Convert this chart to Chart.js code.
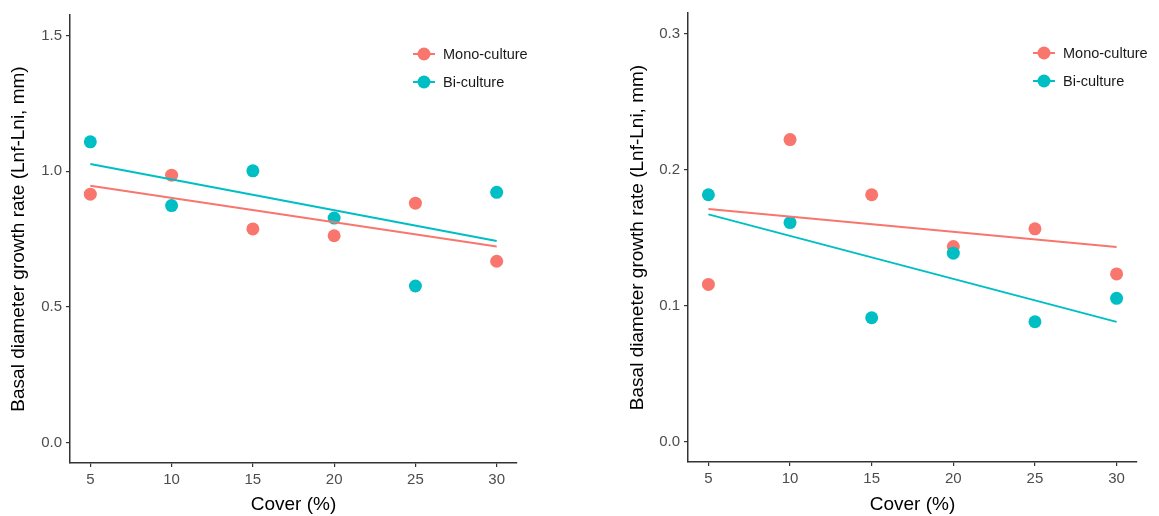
<!DOCTYPE html>
<html>
<head>
<meta charset="utf-8">
<script src="https://cdn.jsdelivr.net/npm/chart.js@4/dist/chart.umd.min.js"></script>
<style>
  html, body { margin: 0; padding: 0; background: #ffffff; }
  #wrap { position: relative; width: 1159px; height: 516px; }
  canvas { position: absolute; top: 0; }
  #left { left: 0; }
  #right { left: 580px; }
</style>
</head>
<body>
<div id="wrap">
  <canvas id="left" width="580" height="516"></canvas>
  <canvas id="right" width="579" height="516"></canvas>
</div>
<script>
// Cover treatments (%)
const coverLevels = [5, 10, 15, 20, 25, 30];

// Panel A: basal diameter growth rate
const monoGrowthA = [0.915, 0.985, 0.787, 0.762, 0.882, 0.668];
const biGrowthA   = [1.108, 0.873, 1.001, 0.827, 0.577, 0.922];
const monoFitA    = [0.946, 0.722];
const biFitA      = [1.026, 0.743];
const yTicksA     = [0, 0.5, 1.0, 1.5];

// Panel B: basal diameter growth rate
const monoGrowthB = [0.1155, 0.222, 0.1814, 0.1433, 0.1564, 0.1232];
const biGrowthB   = [0.1814, 0.161, 0.091, 0.1385, 0.0881, 0.1053];
const monoFitB    = [0.171, 0.143];
const biFitB      = [0.167, 0.088];
const yTicksB     = [0, 0.1, 0.2, 0.3];

// Fitted lines span the cover range
const fitCover = [5, 30];

const seriesNames = ['Mono-culture', 'Bi-culture'];
const RED = '#F8766D';
const TEAL = '#00BFC4';
const FONT = "'Liberation Sans', Arial, sans-serif";

function pts(xs, ys) { return xs.map((x, i) => ({ x: x, y: ys[i] })); }

// Legend drawn inside the plot area, top-right
const insideLegend = {
  id: 'insideLegend',
  afterDatasetsDraw(chart, args, opts) {
    const ctx = chart.ctx;
    const a = chart.chartArea;
    const cx = a.right + opts.dx;
    opts.items.forEach((it, i) => {
      const cy = a.top + opts.dy + i * opts.gap;
      ctx.save();
      ctx.strokeStyle = it.color;
      ctx.lineWidth = 2;
      ctx.beginPath();
      ctx.moveTo(cx - 11, cy);
      ctx.lineTo(cx + 11, cy);
      ctx.stroke();
      ctx.fillStyle = it.color;
      ctx.beginPath();
      ctx.arc(cx, cy, 6.5, 0, Math.PI * 2);
      ctx.fill();
      ctx.fillStyle = '#1a1a1a';
      ctx.font = '14.5px ' + FONT;
      ctx.textBaseline = 'middle';
      ctx.textAlign = 'left';
      ctx.fillText(it.label, cx + 19, cy + 0.5);
      ctx.restore();
    });
  }
};

function makePanel(canvasId, cfg) {
  // Lower order is painted later (on top): fits over points, Bi-culture points over Mono-culture
  const scatterStyle = (color, order) => ({
    showLine: false,
    backgroundColor: color,
    borderColor: color,
    pointRadius: 6.5,
    pointHoverRadius: 6.5,
    pointBorderWidth: 0,
    order: order
  });
  const lineStyle = (color) => ({
    showLine: true,
    borderColor: color,
    backgroundColor: color,
    borderWidth: 2,
    pointRadius: 0,
    fill: false,
    order: 0
  });
  return new Chart(document.getElementById(canvasId), {
    type: 'scatter',
    data: {
      datasets: [
        Object.assign({ label: seriesNames[0] + ' fit', data: pts(fitCover, cfg.monoFit) }, lineStyle(RED)),
        Object.assign({ label: seriesNames[1] + ' fit', data: pts(fitCover, cfg.biFit) }, lineStyle(TEAL)),
        Object.assign({ label: seriesNames[0], data: pts(coverLevels, cfg.mono) }, scatterStyle(RED, 2)),
        Object.assign({ label: seriesNames[1], data: pts(coverLevels, cfg.bi) }, scatterStyle(TEAL, 1))
      ]
    },
    options: {
      responsive: false,
      devicePixelRatio: 1,
      animation: false,
      events: [],
      layout: { padding: cfg.padding },
      plugins: {
        legend: { display: false },
        tooltip: { enabled: false },
        insideLegend: {
          dx: -93, dy: cfg.legendDy, gap: 28,
          items: [{ label: seriesNames[0], color: RED }, { label: seriesNames[1], color: TEAL }]
        }
      },
      scales: {
        x: {
          type: 'linear',
          min: 3.75,
          max: 31.25,
          afterBuildTicks: (s) => { s.ticks = coverLevels.map(v => ({ value: v })); },
          afterFit: (s) => { s.height = cfg.xHeight; },
          ticks: { color: '#4D4D4D', font: { family: FONT, size: 15 }, padding: 4, maxRotation: 0 },
          grid: { drawOnChartArea: false, drawTicks: true, tickLength: 4, color: '#333333', lineWidth: 1.2 },
          border: { display: true, color: '#333333', width: 1.5 },
          title: { display: true, text: 'Cover (%)', color: '#000000', font: { family: FONT, size: 19, lineHeight: 1 }, padding: { top: 0, bottom: 2 } }
        },
        y: {
          type: 'linear',
          min: cfg.yMin,
          max: cfg.yMax,
          afterBuildTicks: (s) => { s.ticks = cfg.yTicks.map(v => ({ value: v })); },
          afterFit: (s) => { s.width = cfg.yWidth; },
          ticks: { color: '#4D4D4D', font: { family: FONT, size: 15 }, padding: 4, callback: (v) => v.toFixed(1) },
          grid: { drawOnChartArea: false, drawTicks: true, tickLength: 4, color: '#333333', lineWidth: 1.2 },
          border: { display: true, color: '#333333', width: 1.5 },
          title: { display: true, text: 'Basal diameter growth rate (Lnf-Lni, mm)', color: '#000000', font: { family: FONT, size: 19, lineHeight: 1 }, padding: { top: 9, bottom: 0 } }
        }
      }
    },
    plugins: [insideLegend]
  });
}

makePanel('left', {
  mono: monoGrowthA, bi: biGrowthA, monoFit: monoFitA, biFit: biFitA,
  yTicks: yTicksA, yMin: -0.075, yMax: 1.575,
  padding: { left: 0, right: 63, top: 15, bottom: 0 },
  yWidth: 70, xHeight: 53, legendDy: 39
});

makePanel('right', {
  mono: monoGrowthB, bi: biGrowthB, monoFit: monoFitB, biFit: biFitB,
  yTicks: yTicksB, yMin: -0.015, yMax: 0.315,
  padding: { left: 39, right: 22, top: 13, bottom: 0 },
  yWidth: 69, xHeight: 54, legendDy: 40
});
</script>
</body>
</html>
